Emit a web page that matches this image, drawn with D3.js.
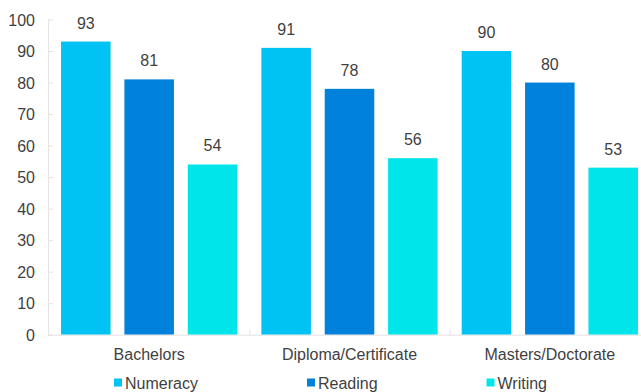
<!DOCTYPE html>
<html>
<head>
<meta charset="utf-8">
<script src="https://cdn.jsdelivr.net/npm/d3@7"></script>
<style>
  html, body { margin: 0; padding: 0; background: #fff; }
  svg { display: block; font-family: "Liberation Sans", Arial, sans-serif; }
</style>
</head>
<body>
<svg id="chart" width="641" height="392"></svg>
<script>
// Qualification groups and the three skill series (percent)
const categories = ["Bachelors", "Diploma/Certificate", "Masters/Doctorate"];
const seriesNames = ["Numeracy", "Reading", "Writing"];
const numeracy = [93, 91, 90];
const reading = [81, 78, 80];
const writing = [54, 56, 53];
const yTicks = [0, 10, 20, 30, 40, 50, 60, 70, 80, 90, 100];

const seriesValues = [numeracy, reading, writing];
const colors = ["#00c2f3", "#0082dc", "#00e5ea"];
const textColor = "#3f3f3f";
const gridColor = "#e3e3e3";

const svg = d3.select("#chart");

const plotLeft = 49, plotRight = 650, plotTop = 19.5, plotBottom = 334.7;

const x0 = d3.scaleBand().domain(categories).range([plotLeft, plotRight]).padding(0);
const x1 = d3.scaleBand().domain(seriesNames).range([0, x0.bandwidth()])
  .paddingInner(0.218).paddingOuter(0.19);
const y = d3.scaleLinear().domain([0, 100]).range([plotBottom, plotTop]);

// Y axis line and small inner ticks
svg.append("line")
  .attr("x1", plotLeft - 0.5).attr("x2", plotLeft - 0.5)
  .attr("y1", y(100)).attr("y2", plotBottom + 1)
  .attr("stroke", gridColor).attr("stroke-width", 1);

const yAxis = d3.axisLeft(y).tickValues(yTicks).tickSize(0).tickPadding(0);
const yg = svg.append("g").attr("transform", `translate(${plotLeft},0)`).call(yAxis);
yg.select(".domain").remove();
yg.selectAll(".tick line").remove();
yg.selectAll(".tick").append("line")
  .attr("x1", -1).attr("x2", 4)
  .attr("stroke", gridColor).attr("stroke-width", 1);
yg.selectAll(".tick text")
  .attr("x", -14).attr("dy", "0.36em")
  .attr("fill", textColor)
  .style("font-size", "16px")
  .style("font-family", "'Liberation Sans', Arial, sans-serif");

// Bars
const groups = svg.append("g").selectAll("g")
  .data(categories)
  .join("g")
  .attr("transform", d => `translate(${x0(d)},0)`);

groups.selectAll("rect")
  .data((c, ci) => seriesNames.map((s, si) => ({ s, v: seriesValues[si][ci], si })))
  .join("rect")
  .attr("x", d => x1(d.s))
  .attr("y", d => y(d.v))
  .attr("width", x1.bandwidth())
  .attr("height", d => y(0) - y(d.v))
  .attr("fill", d => colors[d.si]);

// Value labels above bars
groups.selectAll("text.val")
  .data((c, ci) => seriesNames.map((s, si) => ({ s, v: seriesValues[si][ci] })))
  .join("text")
  .attr("class", "val")
  .attr("x", d => x1(d.s) + x1.bandwidth() / 2)
  .attr("y", d => y(d.v) - 13)
  .attr("text-anchor", "middle")
  .attr("fill", textColor)
  .style("font-size", "16px")
  .text(d => d.v);

// X axis baseline and group separators
svg.append("line")
  .attr("x1", plotLeft - 1).attr("x2", 641)
  .attr("y1", plotBottom + 0.5).attr("y2", plotBottom + 0.5)
  .attr("stroke", gridColor).attr("stroke-width", 1);

const xAxis = d3.axisBottom(x0).tickSize(0).tickPadding(0);
const xg = svg.append("g").attr("transform", `translate(0,${plotBottom})`).call(xAxis);
xg.select(".domain").remove();
xg.selectAll(".tick line").remove();
xg.selectAll(".tick text")
  .attr("y", 25).attr("dy", 0)
  .attr("fill", textColor)
  .style("font-size", "16px")
  .style("font-family", "'Liberation Sans', Arial, sans-serif");

svg.append("g").selectAll("line")
  .data(categories.slice(1))
  .join("line")
  .attr("x1", d => x0(d) + 0.5).attr("x2", d => x0(d) + 0.5)
  .attr("y1", plotBottom - 5).attr("y2", plotBottom + 1)
  .attr("stroke", gridColor).attr("stroke-width", 1);

// Legend
const legendX = [114, 307, 486.5];
const legend = svg.append("g").selectAll("g")
  .data(seriesNames)
  .join("g")
  .attr("transform", (d, i) => `translate(${legendX[i]},0)`);
legend.append("rect")
  .attr("x", 0).attr("y", 378.5)
  .attr("width", 8).attr("height", 8)
  .attr("fill", (d, i) => colors[i]);
legend.append("text")
  .attr("x", 11).attr("y", 388.5)
  .attr("fill", textColor)
  .style("font-size", "16px")
  .text(d => d);
</script>
</body>
</html>
